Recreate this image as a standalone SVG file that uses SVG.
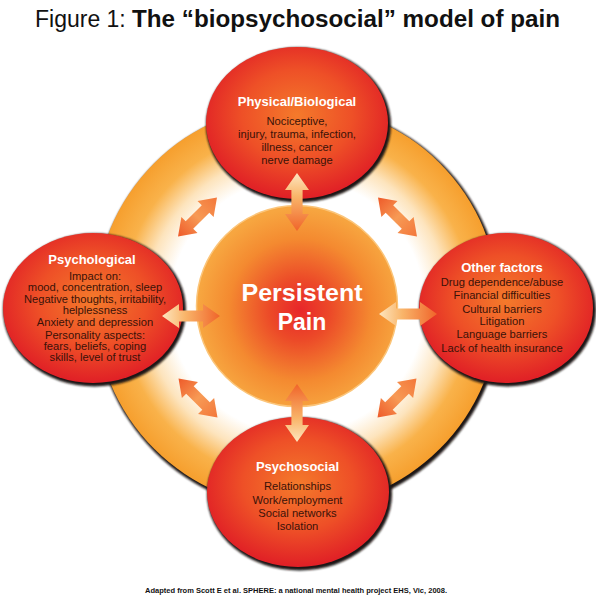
<svg xmlns="http://www.w3.org/2000/svg" xmlns:xlink="http://www.w3.org/1999/xlink" width="596" height="602" viewBox="0 0 596 602">
<style>
  .title { font-family: "Liberation Sans", Arial, sans-serif; font-size: 23px; fill: #111; }
  .head { font-family: "Liberation Sans", Arial, sans-serif; font-weight: bold; font-size: 13px; fill: #ffffff; text-anchor: middle; }
  .body { font-family: "Liberation Sans", Arial, sans-serif; font-size: 11.2px; fill: #3a1208; text-anchor: middle; }
  .center { font-family: "Liberation Sans", Arial, sans-serif; font-weight: bold; font-size: 23px; fill: #ffffff; text-anchor: middle; }
  .foot { font-family: "Liberation Sans", Arial, sans-serif; font-weight: bold; font-size: 7.5px; fill: #111; }
  .sat { fill: url(#satGrad); }
  .shadow { fill: #1e1412; filter: url(#blur); }
</style>
<defs>
  <filter id="blur" x="-10%" y="-10%" width="120%" height="120%">
    <feGaussianBlur stdDeviation="1.1"/>
  </filter>
  <radialGradient id="satGrad" cx="0.5" cy="0.45" r="0.55">
    <stop offset="0" stop-color="#f47a2b"/>
    <stop offset="0.55" stop-color="#ee5027"/>
    <stop offset="1" stop-color="#e01f26"/>
  </radialGradient>
  <radialGradient id="ringGrad" gradientUnits="userSpaceOnUse" cx="297" cy="306" r="202">
    <stop offset="0" stop-color="#ffffff"/>
    <stop offset="0.63" stop-color="#ffffff"/>
    <stop offset="0.75" stop-color="#fde4bd"/>
    <stop offset="0.87" stop-color="#f9b24a"/>
    <stop offset="1" stop-color="#f69f2e"/>
  </radialGradient>
  <radialGradient id="centerGrad" gradientUnits="userSpaceOnUse" cx="300" cy="310" r="102">
    <stop offset="0" stop-color="#e8262a"/>
    <stop offset="0.3" stop-color="#ec4a28"/>
    <stop offset="0.7" stop-color="#f48a30"/>
    <stop offset="1" stop-color="#f7a640"/>
  </radialGradient>
  <linearGradient id="arrGrad" x1="0" y1="0" x2="1" y2="0">
    <stop offset="0" stop-color="#fde6c0"/>
    <stop offset="0.4" stop-color="#f9b56a"/>
    <stop offset="1" stop-color="#f0642a"/>
  </linearGradient>
  <linearGradient id="diagGrad" x1="0" y1="0" x2="1" y2="0">
    <stop offset="0" stop-color="#ee5a29"/>
    <stop offset="0.5" stop-color="#f79a55"/>
    <stop offset="1" stop-color="#f3773a"/>
  </linearGradient>
  <path id="arrow" d="M -29 0 L -12 -12 L -12 -5.6 L 12 -5.6 L 12 -12 L 29 0 L 12 12 L 12 5.6 L -12 5.6 L -12 12 Z"/>
</defs>

<rect width="596" height="602" fill="#ffffff"/>

<text class="title" x="35" y="27">Figure 1:</text>
<text class="title" x="132" y="27" font-weight="bold" textLength="428" lengthAdjust="spacingAndGlyphs">The “biopsychosocial” model of pain</text>

<g id="background-ring">
  <circle cx="298.5" cy="308" r="203.5" class="shadow"/>
  <circle cx="297" cy="306" r="202" fill="url(#ringGrad)"/>
</g>

<g id="node-physical">
  <ellipse cx="298.5" cy="125" rx="92.5" ry="77.5" class="shadow"/>
  <ellipse cx="297" cy="123" rx="91" ry="76" class="sat"/>
  <text class="head" x="297" y="106">Physical/Biological</text>
  <text class="body" x="297" y="124.5">Nociceptive,</text>
  <text class="body" x="297" y="138">injury, trauma, infection,</text>
  <text class="body" x="297" y="151">illness, cancer</text>
  <text class="body" x="297" y="164">nerve damage</text>
</g>

<g id="node-psychological">
  <ellipse cx="94.5" cy="310" rx="91.5" ry="76.5" class="shadow"/>
  <ellipse cx="93" cy="308" rx="90" ry="75" class="sat"/>
  <text class="head" x="92" y="264">Psychological</text>
  <text class="body" x="95" y="279.5" font-size="10.6">Impact on:</text>
  <text class="body" x="95" y="291" font-size="10.6">mood, concentration, sleep</text>
  <text class="body" x="95" y="302.5" font-size="10.6" textLength="142" lengthAdjust="spacingAndGlyphs">Negative thoughts, irritability,</text>
  <text class="body" x="95" y="313.8" font-size="10.6">helplessness</text>
  <text class="body" x="95" y="326" font-size="10.6">Anxiety and depression</text>
  <text class="body" x="95" y="338.5" font-size="10.6">Personality aspects:</text>
  <text class="body" x="95" y="349.8" font-size="10.6">fears, beliefs, coping</text>
  <text class="body" x="95" y="361" font-size="10.6">skills, level of trust</text>
</g>

<g id="node-other">
  <ellipse cx="507.5" cy="310" rx="88.5" ry="76.5" class="shadow"/>
  <ellipse cx="506" cy="308" rx="87" ry="75" class="sat"/>
  <text class="head" x="502" y="272">Other factors</text>
  <text class="body" x="502" y="286" font-size="10.8">Drug dependence/abuse</text>
  <text class="body" x="502" y="299" font-size="10.8">Financial difficulties</text>
  <text class="body" x="502" y="313" font-size="10.8">Cultural barriers</text>
  <text class="body" x="502" y="325" font-size="10.8">Litigation</text>
  <text class="body" x="502" y="338" font-size="10.8">Language barriers</text>
  <text class="body" x="502" y="352" font-size="10.8">Lack of health insurance</text>
</g>

<g id="node-psychosocial">
  <ellipse cx="299.5" cy="494" rx="92.5" ry="76.5" class="shadow"/>
  <ellipse cx="298" cy="492" rx="91" ry="75" class="sat"/>
  <text class="head" x="297.5" y="471">Psychosocial</text>
  <text class="body" x="297.5" y="490" font-size="11.7">Relationships</text>
  <text class="body" x="297.5" y="503.5" font-size="11.7">Work/employment</text>
  <text class="body" x="297.5" y="517" font-size="11.7">Social networks</text>
  <text class="body" x="297.5" y="530" font-size="11.7">Isolation</text>
</g>

<g id="node-center">
  <circle cx="297" cy="306" r="100.5" fill="url(#centerGrad)" stroke="#fbc57a" stroke-width="1.5"/>
  <text class="center" x="302" y="301" textLength="121" lengthAdjust="spacingAndGlyphs">Persistent</text>
  <text class="center" x="302" y="330">Pain</text>
</g>

<g id="connectors">
  <use xlink:href="#arrow" href="#arrow" fill="url(#arrGrad)" transform="translate(297,202) rotate(90)"/>
  <use xlink:href="#arrow" href="#arrow" fill="url(#arrGrad)" transform="translate(297,413) rotate(-90)"/>
  <use xlink:href="#arrow" href="#arrow" fill="url(#arrGrad)" transform="translate(191,316)"/>
  <use xlink:href="#arrow" href="#arrow" fill="url(#arrGrad)" transform="translate(408,314)"/>
  <use xlink:href="#arrow" href="#arrow" fill="url(#diagGrad)" transform="translate(197.5,217) rotate(-45) scale(0.95)"/>
  <use xlink:href="#arrow" href="#arrow" fill="url(#diagGrad)" transform="translate(397.5,217) rotate(45) scale(0.95)"/>
  <use xlink:href="#arrow" href="#arrow" fill="url(#diagGrad)" transform="translate(198,398) rotate(45) scale(0.95)"/>
  <use xlink:href="#arrow" href="#arrow" fill="url(#diagGrad)" transform="translate(397,398) rotate(-45) scale(0.95)"/>
</g>

<text class="foot" x="145" y="593" textLength="302" lengthAdjust="spacingAndGlyphs">Adapted from Scott E et al. SPHERE: a national mental health project EHS, Vic, 2008.</text>
</svg>
